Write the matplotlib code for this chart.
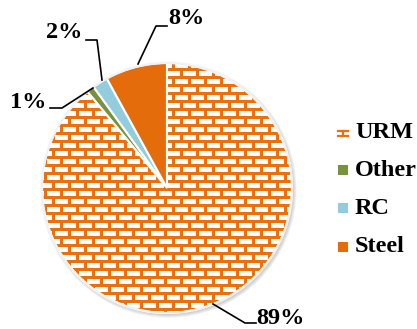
import numpy as np
import matplotlib.pyplot as plt
from matplotlib.patches import Rectangle, Circle
from matplotlib.collections import PatchCollection

labels = ['URM', 'Other', 'RC', 'Steel']
shares = [89, 1, 2, 8]
colors = ['#E8700E', '#77933C', '#93CDDD', '#E46C0A']

plt.rcParams['font.family'] = ['Liberation Serif', 'DejaVu Serif']

fig = plt.figure(figsize=(4.17, 3.29), dpi=100)
ax = fig.add_axes([0, 0, 1, 1])

# pixel -> data (centre at 167,188 px, radius 125 px)
cx, cy, R = 167, 188, 125
def pd(px, py):
    return ((px - cx) / R, (cy - py) / R)

# soft shadow behind the pie
for k in range(6):
    ax.add_patch(Circle((0.012, -0.014), 1 + 0.005 * k, color='#808080',
                        alpha=0.07, lw=0, zorder=0))

wedges, _ = ax.pie(shares, colors=colors, startangle=90, counterclock=False,
                   radius=1, center=(0, 0), frame=True,
                   wedgeprops=dict(edgecolor='white', linewidth=1.5))
ax.set_xlim(-cx / R, (417 - cx) / R)
ax.set_ylim((cy - 329) / R, cy / R)
ax.set_aspect('auto')
ax.axis('off')

# brick pattern for URM: white bricks over orange mortar
bw, bh, mx, my = 16 / R, 8 / R, 2.8 / R, 3.0 / R
bricks = []
rows = np.arange(-1.1, 1.1, bh)
for i, y0 in enumerate(rows):
    off = (bw / 2) * (i % 2)
    for x0 in np.arange(-1.1 - off, 1.1, bw):
        bricks.append(Rectangle((x0 + mx / 2, y0 + my / 2), bw - mx, bh - my))
pc = PatchCollection(bricks, facecolor='white', edgecolor='none', zorder=3)
pc.set_clip_path(wedges[0])
ax.add_collection(pc)
wedges[0].set_zorder(2)
outline = Circle((0, 0), 1, fill=False, edgecolor='#F2F2F2', lw=1.5, zorder=4)
ax.add_patch(outline)

# labels with leader lines
lab_txt = [f'{s}%' for s in shares]
leaders = [
    [(213, 304), (245, 323), (256, 323)],
    [(93, 88), (62, 108), (50, 108)],
    [(102, 80), (97, 40), (86, 40)],
    [(138, 64), (156, 26), (167, 26)],
]
text_pos = [((256, 318), 'left'), ((46, 102), 'right'), ((82, 32), 'right'), ((168, 19), 'left')]
for t, pts, (tp, ha) in zip(lab_txt, leaders, text_pos):
    xs, ys = zip(*[pd(*p) for p in pts])
    ax.plot(xs, ys, color='black', lw=1.2, zorder=5)
    ax.text(*pd(*tp), t, ha=ha, va='center', fontsize=17.5, fontweight='bold')

# legend
leg_y = [132, 170, 208, 247]
for lab, col, y, i in zip(labels, colors, leg_y, range(4)):
    x0, y0 = pd(338, y + 5)
    sq = 10 / R
    if i == 0:
        ax.add_patch(Rectangle((x0, y0), sq, sq, facecolor='white', edgecolor='none'))
        ax.plot([x0, x0 + sq], [y0 + sq * 0.15, y0 + sq * 0.15], color=col, lw=1.6)
        ax.plot([x0, x0 + sq], [y0 + sq * 0.6, y0 + sq * 0.6], color=col, lw=1.6)
        ax.plot([x0 + sq * 0.5, x0 + sq * 0.5], [y0 + sq * 0.15, y0 + sq * 0.6], color=col, lw=1.6)
    else:
        ax.add_patch(Rectangle((x0, y0), sq, sq, facecolor=col, edgecolor='none'))
    ax.text(*pd(355, y), lab, ha='left', va='center', fontsize=17.5, fontweight='bold')

fig.savefig('out.png', dpi=100)
